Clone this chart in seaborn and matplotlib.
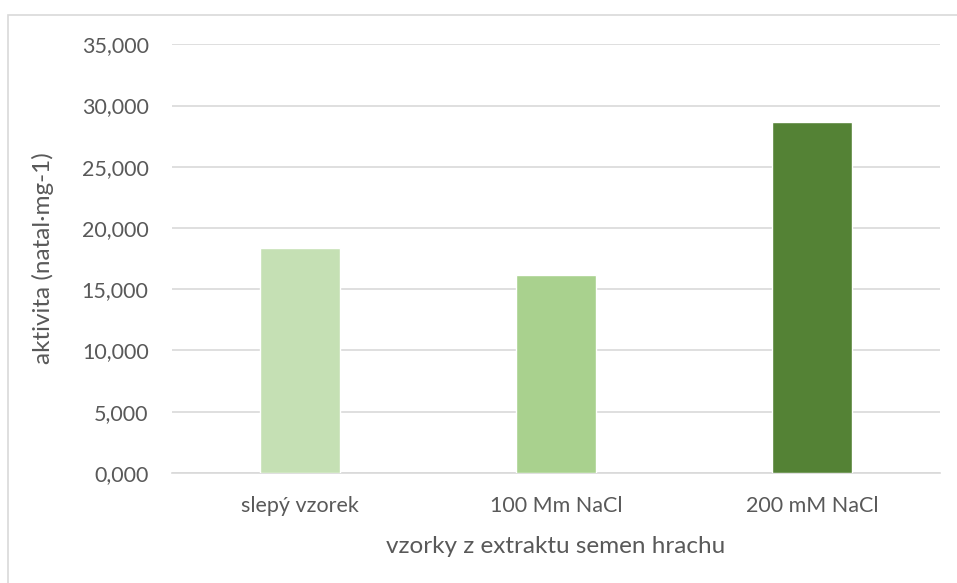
import seaborn as sns
import pandas as pd
import matplotlib.pyplot as plt
from matplotlib.patches import Rectangle
from matplotlib.ticker import FuncFormatter


# Data -----

categories = ["slepý vzorek", "100 Mm NaCl", "200 mM NaCl"]
activity = [18.35, 16.12, 28.65]
bar_colors = ["#C5E0B4", "#A9D18E", "#548235"]
y_ticks = [0, 5, 10, 15, 20, 25, 30, 35]

df = pd.DataFrame({"vzorek": categories, "aktivita": activity})

# Plot -----

sns.set_theme(style="white")
plt.rcParams["font.family"] = ["Lato", "DejaVu Sans"]
text_color = "#595959"
grid_color = "#D9D9D9"

fig = plt.figure(figsize=(9.57, 5.83), dpi=100)
ax = fig.add_axes([0.18, 0.189, 0.802, 0.735])

sns.barplot(
    data=df,
    x="vzorek",
    y="aktivita",
    hue="vzorek",
    palette=bar_colors,
    saturation=1,
    width=0.3125,
    legend=False,
    ax=ax,
    zorder=3,
)

ax.set_ylim(0, 35)
ax.set_xlim(-0.5, 2.5)
ax.set_yticks(y_ticks)
ax.yaxis.set_major_formatter(FuncFormatter(lambda v, p: "{:.3f}".format(v).replace(".", ",")))
ax.grid(axis="y", color=grid_color, linewidth=1.2, zorder=0)
ax.set_axisbelow(True)

for side in ["left", "right", "top"]:
    ax.spines[side].set_visible(False)
ax.spines["bottom"].set_color(grid_color)
ax.spines["bottom"].set_linewidth(1.2)

ax.tick_params(axis="both", length=0, labelsize=15.5, colors=text_color)
ax.tick_params(axis="y", pad=17)
ax.tick_params(axis="x", pad=17)
ax.set_xlabel("vzorky z extraktu semen hrachu", fontsize=17.5, color=text_color, labelpad=14)
ax.set_ylabel("aktivita (natal·mg-1)", fontsize=17.5, color=text_color, labelpad=20)

# chart area border
fig.patches.append(
    Rectangle((8 / 957, -0.1), 1.1, 1 - 15 / 583 + 0.1, transform=fig.transFigure,
              fill=False, edgecolor=grid_color, linewidth=1.2)
)

fig.savefig("out.png", dpi=100)
